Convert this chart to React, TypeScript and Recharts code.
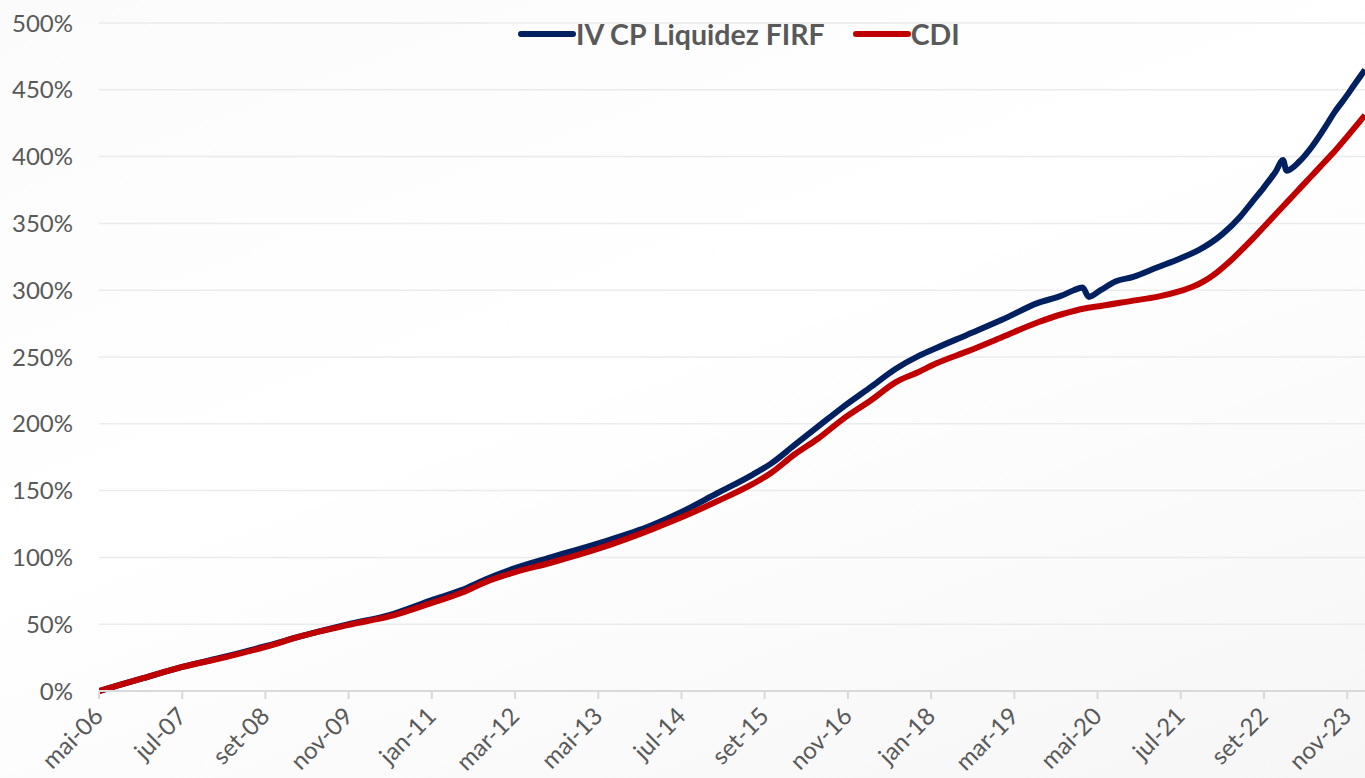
import React from "react";
import { LineChart, Line, XAxis, YAxis, CartesianGrid } from "recharts";

// time in months since mai-06
const months = [0, 7, 14, 21, 28, 34, 42, 49, 56, 61, 65, 70, 76, 84, 93, 98, 104, 110, 113, 117, 121, 125, 130, 134, 138, 141, 146, 152, 158, 162, 164, 165.5, 166.5, 168.5, 171, 174, 178, 182, 185, 189, 192, 194, 196, 198, 199.2, 199.8, 202, 204, 206, 208, 210, 211, 213];
const ivcpValues = [0, 9, 18, 25.5, 33.5, 41, 50, 57, 68, 75.5, 83.5, 92, 100, 110.5, 124, 134, 148, 162, 170, 184, 198, 212, 228, 241, 251, 257, 266.5, 278, 290.5, 296, 300, 302, 295, 300, 306.5, 310, 317, 324, 330, 342, 355, 366, 377, 389, 397.5, 389.5, 396.5, 407, 420, 434, 446, 452.5, 465];

const cdiMonths = [0, 7, 14, 21, 28, 34, 42, 49, 56, 61, 65, 70, 76, 84, 93, 98, 104, 110, 113, 117, 121, 125, 130, 134, 138, 141, 146, 152, 158, 162, 166, 169, 174, 178, 182, 184, 186, 188, 190, 192, 194, 196, 198, 200, 202, 204, 206, 208, 210, 211.5, 213];
const cdiValues = [0, 9, 18, 25, 33, 41, 49.5, 56, 66, 73.5, 81.5, 89, 96, 106.5, 121, 130, 142, 155, 163, 177, 189, 203, 218, 231, 239, 245.5, 254, 265, 276, 282, 286.5, 288.5, 292.2, 295, 299.5, 302.5, 307, 313, 320.5, 329, 338, 347.5, 357, 366.5, 376, 385.5, 395, 404.5, 415, 423, 431];

const tickLabels = ["mai-06", "jul-07", "set-08", "nov-09", "jan-11", "mar-12", "mai-13", "jul-14", "set-15", "nov-16", "jan-18", "mar-19", "mai-20", "jul-21", "set-22", "nov-23"];
const tickMonths = tickLabels.map((_, i) => i * 14);
const yTicks = [0, 50, 100, 150, 200, 250, 300, 350, 400, 450, 500];

const seriesNames = ["IV CP Liquidez FIRF", "CDI"];
const seriesColors = ["#002060", "#C00000"];

const ivcpData = months.map((m, i) => ({ m, v: ivcpValues[i] }));
const cdiData = cdiMonths.map((m, i) => ({ m, v: cdiValues[i] }));

const FONT = "Lato, 'Open Sans', sans-serif";
const TEXT = "#595959";

const XTick = (props: any) => {
  const { x, y, payload } = props;
  const idx = tickMonths.indexOf(payload.value);
  return (
    <text
      transform={`translate(${x - 1},${y + 10}) rotate(-45)`}
      textAnchor="end"
      dominantBaseline="central"
      fill={TEXT}
      fontSize={24}
      fontFamily={FONT}
    >
      {idx >= 0 ? tickLabels[idx] : ""}
    </text>
  );
};

const LegendBox = () => (
  <div
    style={{
      position: "absolute",
      top: 17,
      left: 516,
      display: "flex",
      alignItems: "center",
      fontFamily: FONT,
      whiteSpace: "nowrap",
      zIndex: 2,
    }}
  >
    {seriesNames.map((n, i) => (
      <div key={n} style={{ display: "flex", alignItems: "center", marginRight: i === 0 ? 26 : 0 }}>
        <svg width={60} height={10}>
          <line x1={5} y1={5} x2={57} y2={5} stroke={seriesColors[i]} strokeWidth={6} strokeLinecap="round" />
        </svg>
        <span style={{ color: TEXT, fontWeight: 700, fontSize: 28.5, lineHeight: "34px" }}>{n}</span>
      </div>
    ))}
  </div>
);

export default function App() {
  return (
    <div
      style={{
        position: "absolute",
        left: 0,
        top: 0,
        width: 1365,
        height: 778,
        overflow: "hidden",
        background: "linear-gradient(160deg, #fbfbfb 0%, #ffffff 45%, #f6f6f6 100%)",
        fontFamily: FONT,
      }}
    >
      <LineChart width={1365} height={778} margin={{ top: 23, right: 0, bottom: 0, left: 0 }}>
        <CartesianGrid vertical={false} stroke="#ebebeb" strokeWidth={1.5} />
        <XAxis
          dataKey="m"
          type="number"
          domain={[0, 213]}
          ticks={tickMonths}
          interval={0}
          height={87}
          stroke="#d9d9d9"
          strokeWidth={2}
          tickSize={8}
          tickLine={{ stroke: "#d9d9d9", strokeWidth: 2 }}
          tick={<XTick />}
          allowDataOverflow
        />
        <YAxis
          domain={[0, 500]}
          ticks={yTicks}
          width={99}
          axisLine={false}
          tickLine={false}
          tickSize={0}
          tickMargin={26}
          tickFormatter={(v: number) => `${v}%`}
          tick={{ fill: TEXT, fontSize: 24, fontFamily: FONT }}
        />
        <Line
          data={ivcpData}
          type="monotone"
          dataKey="v"
          name={seriesNames[0]}
          stroke={seriesColors[0]}
          strokeWidth={6}
          dot={false}
          isAnimationActive={false}
        />
        <Line
          data={cdiData}
          type="monotone"
          dataKey="v"
          name={seriesNames[1]}
          stroke={seriesColors[1]}
          strokeWidth={6}
          dot={false}
          isAnimationActive={false}
        />
      </LineChart>
      <LegendBox />
    </div>
  );
}
